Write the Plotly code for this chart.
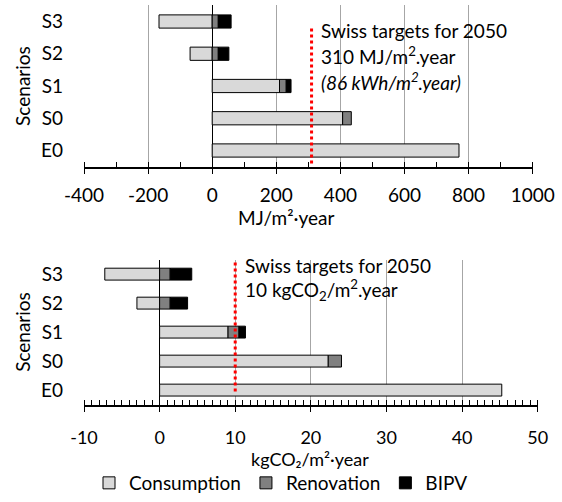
import plotly.graph_objects as go

# Scenario categories (bottom to top)
scenarios = ["E0", "S0", "S1", "S2", "S3"]

# Primary energy, MJ/m²·year
energy_consumption = [770, 407, 210, -69, -166]
energy_renovation = [None, 27, 21, 19, 19]
energy_bipv = [None, None, 15, 33, 40]
energy_target = 310
energy_ticks = [-400, -200, 0, 200, 400, 600, 800, 1000]
energy_tick_labels = ["-400", "-200", "0", "200", "400", "600", "800", "1000"]

# Greenhouse gas emissions, kgCO2/m²·year
ghg_consumption = [45.25, 22.3, 9.05, -3.0, -7.25]
ghg_renovation = [None, 1.75, 1.45, 1.4, 1.4]
ghg_bipv = [None, None, 0.85, 2.3, 2.85]
ghg_target = 10
ghg_ticks = [-10, 0, 10, 20, 30, 40, 50]
ghg_tick_labels = ["-10", "0", "10", "20", "30", "40", "50"]

W, H = 562, 502
FONT = "Lato"
FS = 19
TXT = "#000000"
GRID = "#a6a6a6"


def px_x(p):
    return p / W


def px_y(p):
    return 1 - p / H


fig = go.Figure()

series = [
    ("Consumption", "#d9d9d9", energy_consumption, ghg_consumption),
    ("Renovation", "#808080", energy_renovation, ghg_renovation),
    ("BIPV", "#000000", energy_bipv, ghg_bipv),
]

for name, color, top_vals, bot_vals in series:
    fig.add_trace(go.Bar(
        y=scenarios, x=top_vals, orientation="h", name=name,
        marker=dict(color=color, line=dict(color="#000000", width=1)),
        width=0.41, xaxis="x", yaxis="y", showlegend=True, legendgroup=name,
    ))
    fig.add_trace(go.Bar(
        y=scenarios, x=bot_vals, orientation="h", name=name,
        marker=dict(color=color, line=dict(color="#000000", width=1)),
        width=0.41, xaxis="x2", yaxis="y2", showlegend=False, legendgroup=name,
    ))

tick_font = dict(family=FONT, size=FS, color=TXT)

common_x = dict(
    showgrid=True, gridcolor=GRID, gridwidth=1,
    zeroline=True, zerolinecolor="#000000", zerolinewidth=1.3,
    showline=True, linecolor="#000000", linewidth=1.6,
    ticks="outside", ticklen=6, tickwidth=1.3, tickcolor="#000000",
    automargin=False, fixedrange=True,
)
common_y = dict(
    type="category", categoryorder="array", categoryarray=scenarios,
    range=[-0.5, 4.5], showgrid=False, zeroline=False, showline=False,
    ticks="", tickfont=tick_font, automargin=False,
    ticklabelstandoff=20, fixedrange=True,
)

top_dom = [px_y(170.7), px_y(5.5)]
bot_dom = [px_y(414.5), px_y(266)]


def inner_ticks(over, anchor, vals, rng):
    # Inner halves of the major ticks, so they cross the axis line
    return dict(overlaying=over, matches=over, anchor=anchor, side="bottom",
                showgrid=False, zeroline=False, showline=False,
                ticks="inside", ticklen=6, tickwidth=1.3, tickcolor="#000000",
                showticklabels=False, tickmode="array", tickvals=vals,
                range=rng, fixedrange=True)


fig.update_layout(
    width=W, height=H,
    margin=dict(l=0, r=0, t=0, b=0),
    paper_bgcolor="white", plot_bgcolor="white",
    barmode="relative", bargap=0.5,
    font=dict(family=FONT, color=TXT, size=FS),
    xaxis=dict(
        common_x, domain=[px_x(84), px_x(532.7)], anchor="y",
        range=[-400, 1000], tickmode="array", tickvals=energy_ticks,
        ticktext=energy_tick_labels, tickfont=tick_font,
        minor=dict(dtick=100, tick0=0, ticks="inside", ticklen=5, tickcolor="#000000",
                   tickwidth=1, showgrid=False),
        ticklabelstandoff=5,
    ),
    yaxis=dict(common_y, domain=top_dom, anchor="x"),
    xaxis2=dict(
        common_x, domain=[px_x(84), px_x(537.7)], anchor="y2",
        range=[-10, 50], tickmode="array", tickvals=ghg_ticks,
        ticktext=ghg_tick_labels, tickfont=dict(tick_font, size=18),
        minor=dict(dtick=1, tick0=0, ticks="inside", ticklen=5, tickcolor="#000000",
                   tickwidth=1, showgrid=False),
        ticklabelstandoff=10,
    ),
    yaxis2=dict(common_y, domain=bot_dom, anchor="x2"),
    xaxis3=inner_ticks("x", "y", energy_ticks, [-400, 1000]),
    xaxis4=inner_ticks("x2", "y2", ghg_ticks, [-10, 50]),
    legend=dict(
        orientation="h", x=0.5, xanchor="center", y=px_y(495), yanchor="middle",
        font=dict(family=FONT, size=FS, color=TXT), itemwidth=30,
        traceorder="normal", bgcolor="rgba(0,0,0,0)",
        tracegroupgap=0, itemclick=False, itemdoubleclick=False,
    ),
    showlegend=True,
)

# Swiss 2050 target lines
fig.add_shape(type="line", xref="x", yref="y domain", x0=energy_target, x1=energy_target,
              y0=0.02, y1=0.865, line=dict(color="#ff0000", width=3, dash="dot"))
fig.add_shape(type="line", xref="x2", yref="y2 domain", x0=ghg_target, x1=ghg_target,
              y0=0.09, y1=0.99, line=dict(color="#ff0000", width=3, dash="dot"))

ann = []


def note(x, y, text, xanchor="left", angle=0, size=FS):
    ann.append(dict(xref="paper", yref="paper", x=px_x(x), y=px_y(y), text=text,
                    showarrow=False, xanchor=xanchor, yanchor="middle",
                    textangle=angle, font=dict(family=FONT, size=size, color=TXT)))


note(319, 31, "Swiss targets for 2050")
note(319, 57, "310 MJ/m<sup>2</sup>.year")
note(319, 83, "<i>(86 kWh/m<sup>2</sup>.year)</i>")
note(243, 272, "Swiss targets for 2050")
note(243, 297, "10 kgCO<sub>2</sub>/m<sup>2</sup>.year")

# Axis titles
note(286, 223, "MJ/m²·year", xanchor="center")
note(310, 470, "kgCO₂/m²·year", xanchor="center", size=18)
note(23, 88, "Scenarios", xanchor="center", angle=-90)
note(23, 340, "Scenarios", xanchor="center", angle=-90)

fig.update_layout(annotations=ann)

fig.write_html("out.html")
